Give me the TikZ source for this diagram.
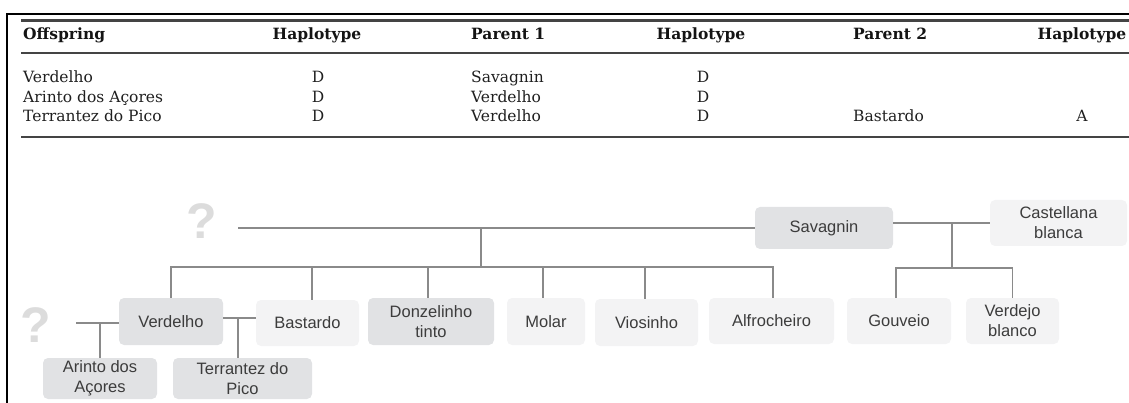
\documentclass[tikz,border=0pt]{standalone}
\usepackage{fontspec}
\setmainfont{DejaVu Serif}
\setsansfont{Liberation Sans}
\definecolor{boxdark}{HTML}{E1E2E4}
\definecolor{boxlight}{HTML}{F3F3F4}
\definecolor{linegrey}{HTML}{8A8A8A}
\definecolor{qgrey}{HTML}{DCDCDC}
\definecolor{rulegrey}{HTML}{444444}
\definecolor{boxtext}{HTML}{3C3C3C}
\begin{document}
\begin{tikzpicture}[x=1pt,y=-1pt,
  hd/.style={font=\bfseries\fontsize{15.5}{19}\selectfont, text=black!92, inner sep=0},
  cell/.style={font=\fontsize{15.5}{19}\selectfont, text=black!88, inner sep=0},
  rule/.style={line width=2.6pt, draw=rulegrey},
  box/.style={rounded corners=5pt, inner sep=0, align=center, font=\sffamily\fontsize{16.5}{20}\selectfont, text=boxtext},
  dk/.style={box, fill=boxdark},
  lt/.style={box, fill=boxlight},
  link/.style={draw=linegrey, line width=1.8pt},
  qm/.style={font=\sffamily\bfseries\fontsize{50}{50}\selectfont, text=qgrey, inner sep=0}]
\useasboundingbox (0,0) rectangle (1129,403);
% frame
\draw[line width=2pt] (7,403) -- (7,14) -- (1129,14);
% table rules
\draw[rule] (21,20.5) -- (1129,20.5);
\draw[rule] (21,53) -- (1129,53);
\draw[rule] (21,137) -- (1129,137);
% header
\node[hd, anchor=base west] (hoff) at (23,40) {Offspring};
\node[hd, anchor=base] (hh1) at (317,40) {Haplotype};
\node[hd, anchor=base west] (hp1) at (471,40) {Parent 1};
\node[hd, anchor=base] (hh2) at (701,40) {Haplotype};
\node[hd, anchor=base west] (hp2) at (853,40) {Parent 2};
\node[hd, anchor=base] (hh3) at (1082,40) {Haplotype};
% rows
\node[cell, anchor=base west] (r1a) at (23,83) {Verdelho};
\node[cell, anchor=base] (r1b) at (318,83) {D};
\node[cell, anchor=base west] (r1c) at (471,83) {Savagnin};
\node[cell, anchor=base] (r1d) at (703,83) {D};
\node[cell, anchor=base west] (r2a) at (23,103) {Arinto dos Açores};
\node[cell, anchor=base] (r2b) at (318,103) {D};
\node[cell, anchor=base west] (r2c) at (471,103) {Verdelho};
\node[cell, anchor=base] (r2d) at (703,103) {D};
\node[cell, anchor=base west] (r3a) at (23,122) {Terrantez do Pico};
\node[cell, anchor=base] (r3b) at (318,122) {D};
\node[cell, anchor=base west] (r3c) at (471,122) {Verdelho};
\node[cell, anchor=base] (r3d) at (703,122) {D};
\node[cell, anchor=base west] (r3e) at (853,122) {Bastardo};
\node[cell, anchor=base] (r3f) at (1082,122) {A};
% tree nodes
\node[qm] (q1) at (202,221) {?};
\node[qm] (q2) at (36,325) {?};
\node[dk, minimum width=138, minimum height=42] (sav) at (824,228) {Savagnin};
\node[lt, minimum width=137, minimum height=46] (cas) at (1058.5,223) {Castellana\\blanca};
\node[dk, minimum width=104, minimum height=47] (ver) at (171,321.5) {Verdelho};
\node[lt, minimum width=103, minimum height=46] (bas) at (307.5,323) {Bastardo};
\node[dk, minimum width=126, minimum height=47] (don) at (431,321.5) {Donzelinho\\tinto};
\node[lt, minimum width=78, minimum height=47] (mol) at (546,321.5) {Molar};
\node[lt, minimum width=103, minimum height=47] (vio) at (646.5,322.5) {Viosinho};
\node[lt, minimum width=125, minimum height=46] (alf) at (771.5,321) {Alfrocheiro};
\node[lt, minimum width=104, minimum height=46] (gou) at (899,321) {Gouveio};
\node[lt, minimum width=93, minimum height=46] (vbl) at (1012.5,321) {Verdejo\\blanco};
\node[dk, minimum width=114, minimum height=41] (ari) at (100,378.5) {Arinto dos\\Açores};
\node[dk, minimum width=139, minimum height=41] (ter) at (242.5,378.5) {Terrantez do\\Pico};
% connectors
\coordinate (jtop) at (238,228);
\coordinate (j1) at (481,228);
\coordinate (j1b) at (481,267);
\draw[link] (jtop) -- (sav.west);
\draw[link] (j1) -- (j1b);
\draw[link] (ver.north) |- (j1b);
\draw[link] ([xshift=4.5]bas.north) |- (j1b);
\draw[link] ([xshift=-3]don.north) |- (j1b);
\draw[link] ([xshift=-3]mol.north) |- (j1b);
\draw[link] ([xshift=-1.5]vio.north) |- (j1b);
\draw[link] ([xshift=1.5]alf.north) |- (j1b);
\coordinate (j2) at (952,223);
\coordinate (j2b) at (952,268);
\draw[link] (sav.east |- cas.west) -- (cas.west);
\draw[link] (j2) -- (j2b);
\draw[link] ([xshift=-3]gou.north) |- (j2b);
\draw[link] (vbl.north) |- (j2b);
\coordinate (lq) at (76,323);
\draw[link] (lq) -- (lq -| ver.west);
\draw[link] (ari.north) -- (ari.north |- lq);
\coordinate (vb) at (238,318);
\draw[link] (ver.east |- vb) -- (bas.west |- vb);
\draw[link] (vb |- ter.north) -- (vb);
\end{tikzpicture}
\end{document}
